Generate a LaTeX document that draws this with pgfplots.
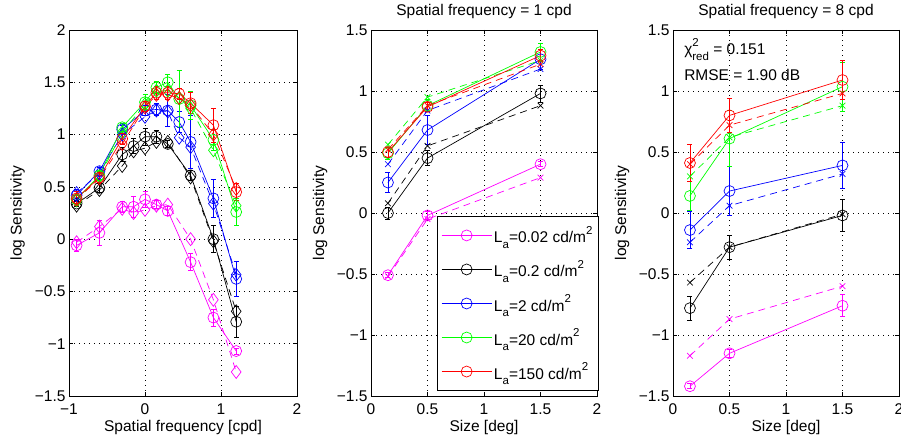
\documentclass[border=0pt]{standalone}
\usepackage{fontspec}
\setmainfont{Liberation Sans}
\usepackage{pgfplots}
\pgfplotsset{compat=1.18}

\definecolor{cmag}{rgb}{1,0,1}
\definecolor{cgrn}{rgb}{0,1,0}
\definecolor{cblu}{rgb}{0,0,1}
\definecolor{cred}{rgb}{1,0,0}

% MATLAB-like sub/superscripts
\newcommand{\lo}[1]{\raisebox{-0.35em}{\fontsize{11.5bp}{11.5bp}\selectfont #1}}
\newcommand{\hi}[1]{\raisebox{0.55em}{\fontsize{11.5bp}{11.5bp}\selectfont #1}}

\pgfplotsset{
  panel/.style={
    scale only axis, height=366bp, anchor=south west,
    font=\fontsize{15.5bp}{18bp}\selectfont,
    grid=major,
    major grid style={black, line width=0.5bp, dash pattern=on 0.8bp off 4.2bp},
    axis line style={line width=0.8bp},
    tick style={black, line width=0.6bp},
    major tick length=4bp,
    ymin=-1.5, ymax=2, ytick={-1.5,-1,-0.5,0,0.5,1,1.5,2},
    yticklabels={−1.5,−1,−0.5,0,0.5,1,1.5,2},
    ylabel={log Sensitivity},
    ylabel style={at={(axis description cs:-0.225,0.5)}, anchor=center},
    xlabel style={at={(axis description cs:0.5,-0.087)}, anchor=center},
    xticklabel style={yshift=-4bp},
    title style={at={(axis description cs:0.5,1)}, anchor=south, yshift=2bp},
  },
  dat/.style={solid, line width=0.7bp, mark=o, mark size=5.5bp, mark options={solid},
    error bars/.cd, y dir=both, y explicit,
    error bar style={line width=0.7bp, solid},
    error mark options={rotate=90, mark size=2.5bp, line width=0.7bp},
    /pgfplots/.cd},
  mod/.style={line width=0.7bp, dash pattern=on 7bp off 5bp, mark options={solid}, forget plot},
  dmd/.style={mark=diamond, mark size=6.5bp},
  crs/.style={mark=x, mark size=4bp},
}

\begin{document}
\begin{tikzpicture}
\useasboundingbox (0,0) rectangle (901bp,444bp);

% left: frequency
\begin{axis}[panel, at={(69bp,48bp)}, width=228bp,
  xmin=-1, xmax=2, xtick={-1,0,1,2}, xticklabels={−1,0,1,2},
  xlabel={Spatial frequency [cpd]}]
\addplot[dat, cmag] coordinates {(-0.9,-0.06)+-(0,0.06) (-0.6,0.06)+-(0,0.12) (-0.3,0.31)+-(0,0.05) (-0.15,0.31)+-(0,0.1) (0,0.38)+-(0,0.08) (0.15,0.33)+-(0,0.04) (0.3,0.27)+-(0,0.04) (0.6,-0.22)+-(0,0.08) (0.9,-0.75)+-(0,0.08) (1.2,-1.07)+-(0,0.03)};
\addplot[mod, dmd, cmag] coordinates {(-0.9,-0.03) (-0.6,0.12) (-0.3,0.29) (-0.15,0.25) (0,0.28) (0.15,0.32) (0.3,0.33) (0.6,0.0) (0.9,-0.58) (1.2,-1.27)};
\addplot[dat, black] coordinates {(-0.9,0.34)+-(0,0.03) (-0.6,0.49)+-(0,0.04) (-0.3,0.81)+-(0,0.07) (-0.15,0.89)+-(0,0.07) (0,0.98)+-(0,0.08) (0.15,0.98)+-(0,0.06) (0.3,0.91)+-(0,0.03) (0.6,0.61)+-(0,0.05) (0.9,0.0)+-(0,0.13) (1.2,-0.79)+-(0,0.15)};
\addplot[mod, dmd, black] coordinates {(-0.9,0.32) (-0.6,0.47) (-0.3,0.70) (-0.15,0.84) (0,0.87) (0.15,0.93) (0.3,0.93) (0.6,0.59) (0.9,-0.02) (1.2,-0.69)};
\addplot[dat, cblu] coordinates {(-0.9,0.42)+-(0,0.06) (-0.6,0.65)+-(0,0.04) (-0.3,1.05)+-(0,0.04) (0,1.23)+-(0,0.05) (0.15,1.24)+-(0,0.06) (0.3,1.23)+-(0,0.15) (0.45,1.12)+-(0,0.1) (0.6,0.93)+-(0,0.25) (0.9,0.39)+-(0,0.18) (1.2,-0.38)+-(0,0.17)};
\addplot[mod, dmd, cblu] coordinates {(-0.9,0.44) (-0.6,0.63) (-0.3,1.0) (0,1.17) (0.15,1.23) (0.3,1.22) (0.45,0.97) (0.6,0.88) (0.9,0.34) (1.2,-0.34)};
\addplot[dat, cgrn] coordinates {(-0.9,0.38)+-(0,0.04) (-0.6,0.61)+-(0,0.04) (-0.3,1.07)+-(0,0.04) (0,1.31)+-(0,0.07) (0.15,1.45)+-(0,0.06) (0.3,1.50)+-(0,0.08) (0.45,1.34)+-(0,0.27) (0.6,1.28)+-(0,0.13) (0.9,0.95)+-(0,0.1) (1.2,0.26)+-(0,0.13)};
\addplot[mod, dmd, cgrn] coordinates {(-0.9,0.37) (-0.6,0.60) (-0.3,1.02) (0,1.29) (0.15,1.42) (0.3,1.42) (0.45,1.35) (0.6,1.25) (0.9,0.85) (1.2,0.32)};
\addplot[dat, cred] coordinates {(-0.9,0.39)+-(0,0.07) (-0.6,0.59)+-(0,0.05) (-0.3,0.96)+-(0,0.05) (0,1.27)+-(0,0.05) (0.15,1.40)+-(0,0.06) (0.3,1.40)+-(0,0.06) (0.45,1.39)+-(0,0.05) (0.6,1.30)+-(0,0.1) (0.9,1.09)+-(0,0.16) (1.2,0.45)+-(0,0.08)};
\addplot[mod, dmd, cred] coordinates {(-0.9,0.38) (-0.6,0.58) (-0.3,0.91) (0,1.26) (0.15,1.38) (0.3,1.38) (0.45,1.35) (0.6,1.28) (0.9,1.0) (1.2,0.48)};
\end{axis}

% middle: size at 1 cpd
\begin{axis}[panel, at={(371bp,48bp)}, width=226bp,
  xmin=0, xmax=2, xtick={0,0.5,1,1.5,2}, xticklabels={0,0.5,1,1.5,2},
  ymax=1.5, ytick={-1.5,-1,-0.5,0,0.5,1,1.5}, yticklabels={−1.5,−1,−0.5,0,0.5,1,1.5},
  xlabel={Size [deg]}, title={Spatial frequency = 1 cpd},
  legend cell align=left,
  legend style={at={(rel axis cs:1.008,0.014)}, anchor=south east, draw=black,
    line width=0.6bp, inner xsep=4bp, inner ysep=8bp, row sep=12bp,
    font=\fontsize{15.5bp}{18bp}\selectfont},
  legend image code/.code={\draw[mark repeat=2, mark phase=2, #1] plot coordinates {(0bp,0bp) (25bp,0bp) (50bp,0bp)};}]
\addplot[dat, cmag] coordinates {(0.15,-0.51)+-(0,0.02) (0.5,-0.02)+-(0,0.03) (1.5,0.40)+-(0,0.02)};
\addplot[mod, crs, cmag] coordinates {(0.15,-0.52) (0.5,-0.05) (1.5,0.29)};
\addplot[dat, black] coordinates {(0.15,0.0)+-(0,0.05) (0.5,0.45)+-(0,0.06) (1.5,0.98)+-(0,0.07)};
\addplot[mod, crs, black] coordinates {(0.15,0.08) (0.5,0.55) (1.5,0.88)};
\addplot[dat, cblu] coordinates {(0.15,0.25)+-(0,0.08) (0.5,0.68)+-(0,0.12) (1.5,1.26)+-(0,0.08)};
\addplot[mod, crs, cblu] coordinates {(0.15,0.40) (0.5,0.84) (1.5,1.18)};
\addplot[dat, cgrn] coordinates {(0.15,0.49)+-(0,0.05) (0.5,0.88)+-(0,0.05) (1.5,1.32)+-(0,0.07)};
\addplot[mod, crs, cgrn] coordinates {(0.15,0.56) (0.5,0.95) (1.5,1.25)};
\addplot[dat, cred] coordinates {(0.15,0.50)+-(0,0.04) (0.5,0.87)+-(0,0.04) (1.5,1.29)+-(0,0.05)};
\addplot[mod, crs, cred] coordinates {(0.15,0.52) (0.5,0.88) (1.5,1.22)};
\legend{L\lo{a}=0.02 cd/m\hi{2}, L\lo{a}=0.2 cd/m\hi{2}, L\lo{a}=2 cd/m\hi{2}, L\lo{a}=20 cd/m\hi{2}, L\lo{a}=150 cd/m\hi{2}}
\end{axis}

% right: size at 8 cpd
\begin{axis}[panel, at={(673bp,48bp)}, width=226bp,
  xmin=0, xmax=2, xtick={0,0.5,1,1.5,2}, xticklabels={0,0.5,1,1.5,2},
  ymax=1.5, ytick={-1.5,-1,-0.5,0,0.5,1,1.5}, yticklabels={−1.5,−1,−0.5,0,0.5,1,1.5},
  xlabel={Size [deg]}, title={Spatial frequency = 8 cpd}]
\addplot[dat, cmag] coordinates {(0.15,-1.42)+-(0,0.02) (0.5,-1.15)+-(0,0.03) (1.5,-0.76)+-(0,0.09)};
\addplot[mod, crs, cmag] coordinates {(0.15,-1.17) (0.5,-0.87) (1.5,-0.60)};
\addplot[dat, black] coordinates {(0.15,-0.78)+-(0,0.1) (0.5,-0.28)+-(0,0.1) (1.5,-0.02)+-(0,0.13)};
\addplot[mod, crs, black] coordinates {(0.15,-0.57) (0.5,-0.28) (1.5,-0.01)};
\addplot[dat, cblu] coordinates {(0.15,-0.14)+-(0,0.15) (0.5,0.18)+-(0,0.2) (1.5,0.39)+-(0,0.19)};
\addplot[mod, crs, cblu] coordinates {(0.15,-0.24) (0.5,0.06) (1.5,0.32)};
\addplot[dat, cgrn] coordinates {(0.15,0.14)+-(0,0.12) (0.5,0.61)+-(0,0.23) (1.5,1.035)+-(0,0.2)};
\addplot[mod, crs, cgrn] coordinates {(0.15,0.30) (0.5,0.62) (1.5,0.88)};
\addplot[dat, cred] coordinates {(0.15,0.41)+-(0,0.15) (0.5,0.80)+-(0,0.14) (1.5,1.09)+-(0,0.16)};
\addplot[mod, crs, cred] coordinates {(0.15,0.40) (0.5,0.72) (1.5,0.98)};
\node[anchor=base west, inner sep=0pt] at (rel axis cs:0.049,0.932) {χ\rlap{\hi{2}}\lo{red} = 0.151};
\node[anchor=base west, inner sep=0pt] at (rel axis cs:0.049,0.863) {RMSE = 1.90 dB};
\end{axis}
\end{tikzpicture}
\end{document}
